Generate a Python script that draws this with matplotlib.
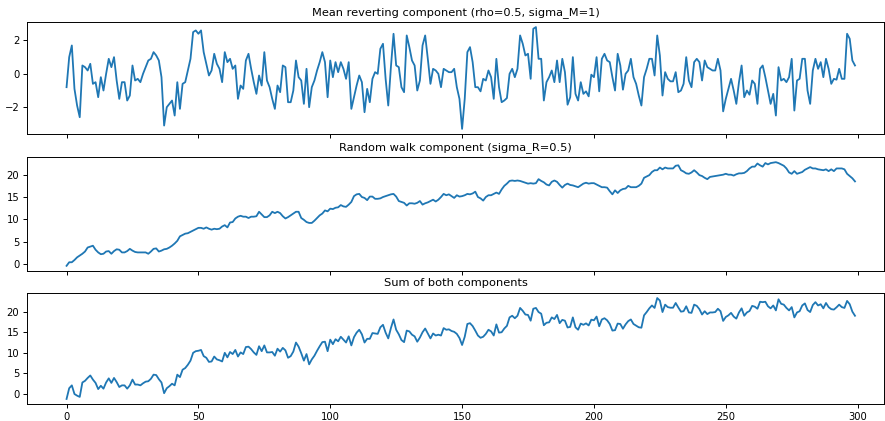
import matplotlib
matplotlib.use("Agg")
import matplotlib.pyplot as plt
import numpy as np

mean_reverting = [
    -0.8, 1.0, 1.7, -0.9, -1.9, -2.6, 0.5, 0.4, 0.2, 0.6,
    -0.6, -0.5, -1.4, -0.2, -1.0, 0.0, 0.9, 0.4, 1.0, -0.4,
    -1.5, -0.5, -0.5, -1.6, -1.3, 0.5, -0.4, -0.3, -0.5, 0.0,
    0.4, 0.8, 0.9, 1.3, 1.1, 0.8, -0.2, -3.1, -2.0, -1.8,
    -1.6, -2.5, -0.5, -2.1, -0.6, -0.5, 0.2, 0.9, 2.5, 2.6,
    2.4, 2.6, 1.3, 0.6, -0.1, 0.2, 1.2, 0.6, 0.3, -0.5,
    1.3, 0.7, 0.9, 0.3, 0.5, -1.5, -0.7, -0.9, 0.8, 1.2,
    0.3, -0.5, -1.2, -0.1, -0.7, 1.3, -0.4, -0.8, -1.5, -2.1,
    -0.7, -1.1, 0.5, 0.4, -1.7, -1.7, -1.0, 0.8, -0.2, -0.4,
    -1.8, 0.3, -2.0, -0.8, -0.4, 0.2, 0.7, 1.3, 0.7, -1.4,
    0.8, -0.2, 0.7, 0.1, 0.7, 0.3, -0.3, 0.7, -2.1, -1.4,
    -0.7, -0.1, -0.5, -2.3, -0.9, -1.7, -0.3, 0.1, 0.0, 1.5,
    1.8, -0.3, -1.9, 0.4, 2.4, 0.5, 0.4, -0.8, -1.1, 2.3,
    1.6, 0.8, 0.5, -1.0, -0.4, 1.7, 2.3, 0.9, -0.6, 0.3,
    0.2, 0.0, -0.8, 0.3, 0.2, 0.1, 0.1, 0.3, -0.8, -1.5,
    -3.3, -1.5, 1.3, 1.6, 0.7, -0.8, -0.8, -1.05, -0.3, -0.4,
    0.2, -0.2, -1.5, 0.9, -0.8, -1.7, -1.6, -1.45, 0.0, 0.3,
    -0.2, 0.3, 2.3, 1.8, 1.1, 1.2, -0.3, 2.7, 2.8, 0.9,
    0.9, -1.6, -0.5, -0.2, 0.2, -0.5, 0.8, -0.5, 0.9, 0.1,
    -1.85, -1.4, 1.0, -1.2, -1.6, -0.5, -1.2, -1.05, -1.35, -0.05,
    -0.2, 1.0, -1.05, 0.9, 1.2, 0.8, 0.7, -0.2, -1.0, 1.2,
    0.5, -0.95, 0.0, 0.2, 0.9, -0.2, -0.6, -1.3, -1.9, -0.2,
    0.3, 0.9, 0.9, -0.1, 2.3, 1.1, -1.3, 0.1, -0.3, -0.45,
    -0.45, 0.1, -1.1, -1.0, -0.6, 1.0, -0.4, -0.8, 0.7, 0.9,
    0.7, -0.4, 0.8, 0.4, 0.3, 0.2, 0.2, 0.9, 0.2, -2.25,
    -1.5, -0.9, -0.3, -1.0, -1.8, -0.5, 0.5, -1.4, -1.0, -1.25,
    -0.4, -0.6, -1.8, 0.3, 0.5, -0.2, -1.0, -1.8, -1.2, -2.5,
    0.4, -0.4, -0.3, -0.5, -0.2, 0.9, -2.2, -0.4, -0.3, 0.9,
    0.9, -1.0, -1.8, 0.2, 0.9, 0.3, 0.7, -0.2, 0.9, 0.3,
    -0.6, -0.3, -0.35, 0.3, -0.3, -0.3, 2.4, 2.1, 0.8, 0.5,
]

random_walk = [
    -0.4, 0.4, 0.4, 0.9, 1.5, 1.9, 2.3, 2.8, 3.7, 3.9,
    4.1, 3.2, 2.6, 2.2, 2.3, 2.8, 2.9, 2.3, 2.9, 3.3,
    3.2, 2.6, 2.6, 2.9, 3.4, 3.0, 2.7, 2.6, 2.6, 2.6,
    2.6, 2.3, 2.8, 3.4, 3.5, 2.8, 3.0, 3.3, 3.4, 3.7,
    4.1, 4.6, 5.2, 6.2, 6.5, 6.8, 6.9, 7.2, 7.5, 7.8,
    8.1, 8.1, 7.9, 8.2, 7.9, 7.7, 7.9, 7.8, 7.9, 8.4,
    8.7, 8.2, 9.3, 9.4, 10.2, 10.6, 10.8, 10.6, 10.6, 10.3,
    10.6, 10.6, 10.7, 11.7, 11.1, 10.5, 10.5, 10.9, 11.7, 11.4,
    11.7, 11.4, 10.7, 10.2, 10.5, 10.9, 11.3, 11.7, 11.7, 10.3,
    9.9, 9.4, 9.2, 9.2, 9.7, 10.3, 10.9, 11.3, 12.0, 11.8,
    12.4, 12.3, 12.6, 12.7, 13.2, 12.9, 12.8, 13.3, 13.9, 15.2,
    15.6, 15.7, 15.0, 14.8, 14.3, 15.1, 15.1, 14.6, 14.6, 14.7,
    15.0, 15.2, 15.4, 15.6, 15.7, 15.1, 14.1, 13.9, 13.7, 13.1,
    13.6, 13.6, 13.5, 13.7, 14.1, 13.3, 13.6, 13.8, 14.1, 14.4,
    14.0, 14.4, 15.0, 15.7, 15.4, 15.6, 15.2, 14.8, 15.4, 15.1,
    15.2, 15.4, 15.7, 15.6, 15.8, 16.2, 15.0, 14.7, 14.2, 15.0,
    15.4, 15.4, 15.7, 16.0, 15.7, 16.7, 17.5, 18.0, 18.6, 18.7,
    18.6, 18.7, 18.6, 18.4, 18.2, 18.0, 18.1, 18.0, 18.1, 19.0,
    18.6, 18.3, 17.8, 17.6, 18.4, 18.7, 18.4, 17.7, 17.1, 17.7,
    18.0, 17.7, 17.6, 17.4, 17.2, 17.6, 18.0, 18.2, 18.0, 18.1,
    18.1, 17.8, 17.5, 17.2, 17.2, 17.1, 16.3, 15.6, 16.5, 15.9,
    16.5, 16.8, 16.9, 17.5, 17.2, 17.2, 17.2, 17.5, 18.0, 19.3,
    19.6, 19.9, 20.6, 21.0, 21.0, 21.6, 21.2, 21.6, 21.4, 21.4,
    21.4, 22.0, 22.1, 21.0, 20.7, 20.3, 20.2, 20.5, 21.0, 20.5,
    19.9, 19.7, 19.3, 19.0, 19.5, 19.6, 19.7, 19.8, 19.9, 20.0,
    20.2, 20.0, 20.0, 19.8, 20.1, 20.3, 20.3, 20.4, 20.8, 21.4,
    21.8, 21.8, 22.5, 22.1, 21.8, 22.6, 22.3, 22.6, 22.7, 22.8,
    22.6, 22.3, 22.0, 21.4, 20.5, 20.2, 20.8, 20.2, 20.4, 20.6,
    21.1, 21.4, 21.7, 21.4, 21.4, 21.2, 21.1, 21.0, 21.2, 20.8,
    21.2, 20.8, 21.4, 21.4, 21.4, 21.2, 20.2, 19.7, 19.2, 18.5,
]

titles = [
    "Mean reverting component (rho=0.5, sigma_M=1)",
    "Random walk component (sigma_R=0.5)",
    "Sum of both components",
]
x_ticks = [0, 50, 100, 150, 200, 250, 300]

M = np.array(mean_reverting)
R = np.array(random_walk)
S = M + R
t = np.arange(len(M))

W, H = 885, 421
fig = plt.figure(figsize=(W / 100, H / 100), dpi=100)

boxes = [(22, 134), (157, 271), (293, 404)]
left, right = 27, 884
axes = []
for i, (top, bot) in enumerate(boxes):
    ax = fig.add_axes([left / W, 1 - bot / H, (right - left) / W, (bot - top) / H],
                      sharex=axes[0] if axes else None)
    axes.append(ax)

series = [M, R, S]
for ax, y, title in zip(axes, series, titles):
    ax.plot(t, y, color="#1f77b4", linewidth=1.3)
    ax.set_title(title, fontsize=8.2, pad=5)
    ax.tick_params(labelsize=7.2, length=3, width=0.7, pad=2.5)
    for sp in ax.spines.values():
        sp.set_linewidth(0.7)

axes[0].set_yticks([-2, 0, 2])
axes[1].set_yticks([0, 5, 10, 15, 20])
axes[2].set_yticks([0, 5, 10, 15, 20])
axes[2].set_xticks(x_ticks)
axes[2].set_xlim(-15, 310)
for ax in axes[:2]:
    ax.tick_params(labelbottom=False)

fig.savefig("out.png", dpi=100)
